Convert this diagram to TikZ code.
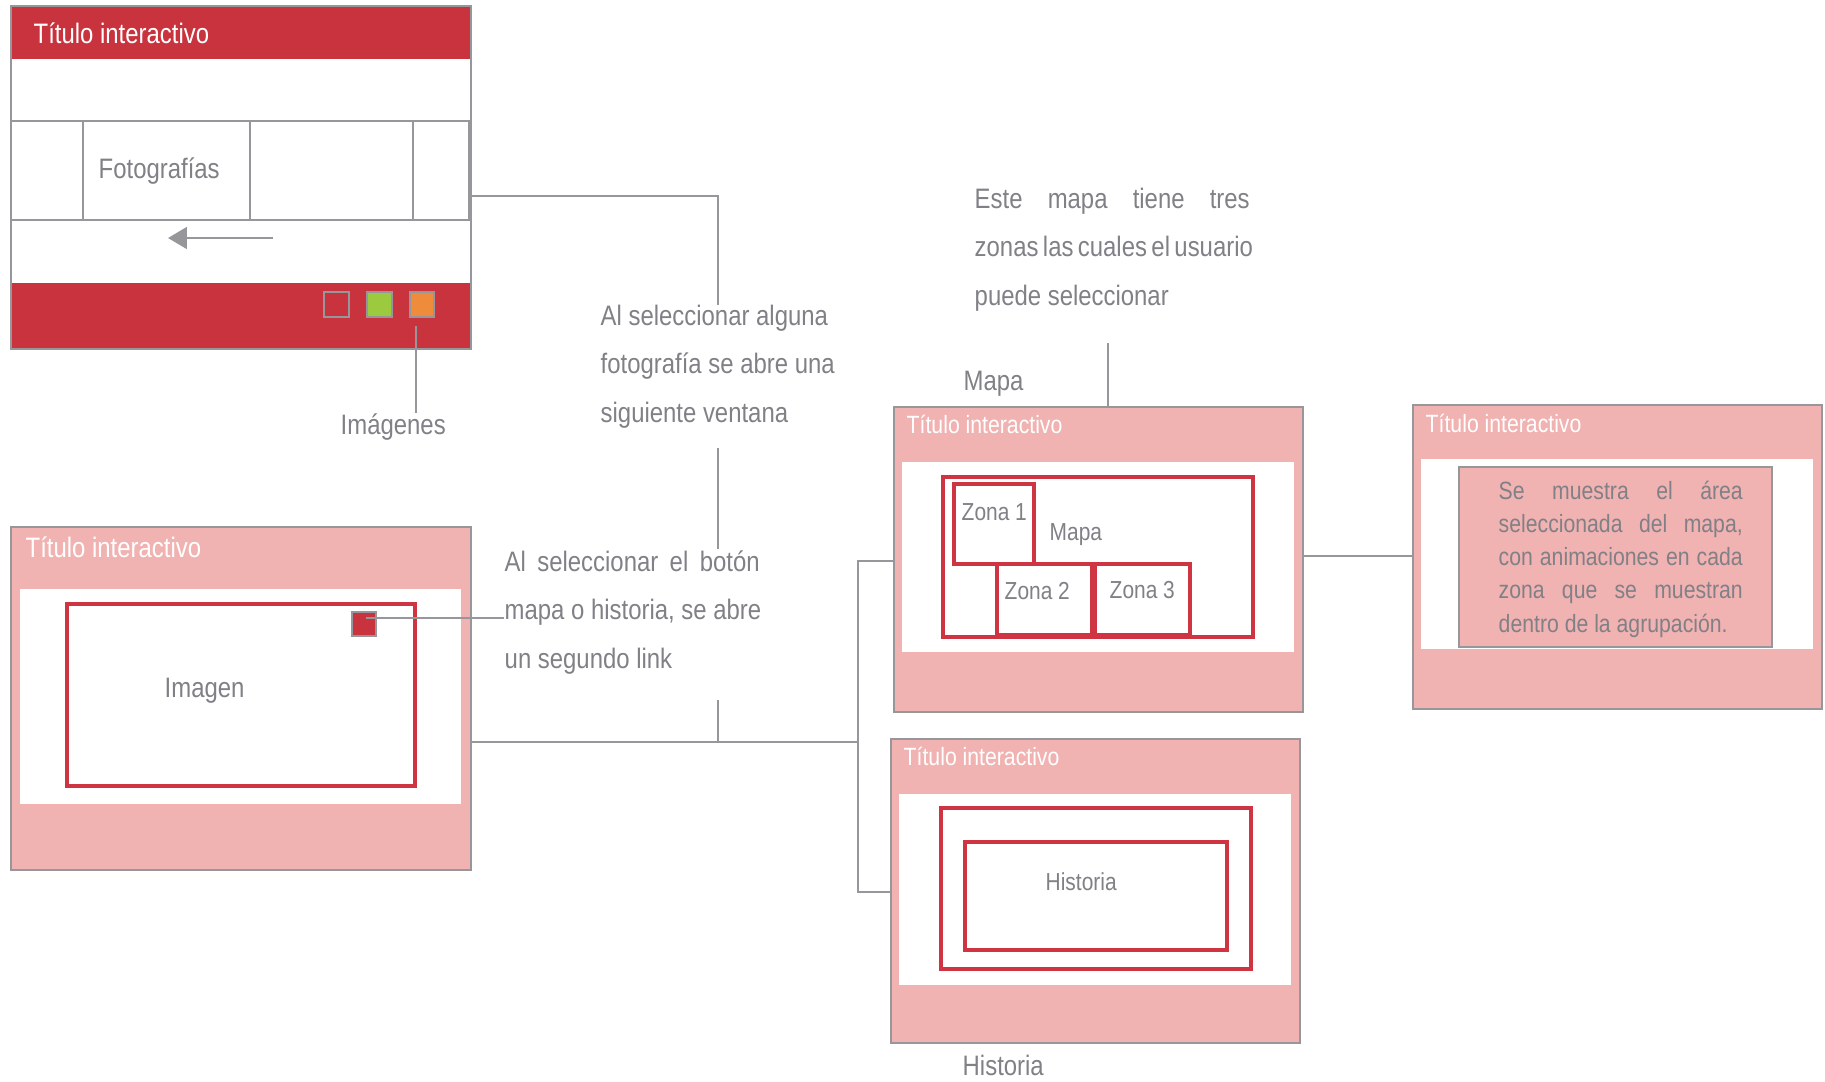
\documentclass[tikz,border=0pt]{standalone}
\usepackage{fontspec}
\setmainfont{Liberation Sans}[FakeStretch=0.85]
\usetikzlibrary{fit,arrows.meta}

\definecolor{titlered}{RGB}{200,51,62}
\definecolor{winpink}{RGB}{241,178,178}
\definecolor{framegray}{RGB}{150,150,155}
\definecolor{inkgray}{RGB}{128,128,134}
\definecolor{zonered}{RGB}{206,52,66}
\definecolor{btngreen}{RGB}{155,202,62}
\definecolor{btnorange}{RGB}{238,140,60}

\tikzset{
  win/.style={draw=framegray, fill=winpink, line width=0.5pt, inner sep=0pt},
  pane/.style={fill=white, inner sep=0pt},
  zone/.style={draw=zonered, line width=0.9pt, inner sep=0pt},
  cell/.style={draw=framegray, line width=0.5pt, inner sep=0pt},
  link/.style={draw=framegray, line width=0.45pt},
  wintitle/.style={text=white, font=\fontsize{7.1}{8.5}\selectfont, inner sep=0pt, anchor=base west},
  lbltext/.style={text=inkgray, font=\fontsize{8}{9.6}\selectfont, inner sep=0pt, anchor=base west},
  smalltext/.style={text=inkgray, font=\fontsize{7}{8.4}\selectfont, inner sep=0pt, anchor=base west},
  note/.style={text=inkgray, font=\fontsize{8}{13.7}\selectfont, inner sep=0pt, anchor=base west, align=left},
}

\begin{document}
\begin{tikzpicture}[x=0.01cm,y=-0.01cm]
  \useasboundingbox (0,0) rectangle (1825,1081);

  % galeria de fotografias
  \fill[titlered] (11,6) rectangle (471,59);
  \fill[titlered] (11,283) rectangle (471,349);
  \node[draw=framegray, line width=0.5pt, inner sep=0pt, fit={(11,6)(471,349)}] (topwin) {};
  \node[wintitle, font=\fontsize{8}{9.6}\selectfont] (topT) at (33,43) {Título interactivo};
  \node[cell, fit={(11,121)(469,220)}] (strip) {};
  \foreach \x in {83,250,413}
    \draw[framegray, line width=0.8pt] (\x,121) -- (\x,220);
  \node[lbltext] (foto) at (98,178) {Fotografías};
  \draw[link, line width=0.7pt, -{Triangle[length=5.4pt,width=6.2pt]}] (273,238) -- (168,238);
  \node[cell, fill=titlered, fit={(324,292)(349,317)}] (sqred) {};
  \node[cell, fill=btngreen, fit={(367,292)(392,317)}] (sqgreen) {};
  \node[cell, fill=btnorange, fit={(410,292)(434,317)}] (sqorange) {};

  \coordinate (imgtop) at (416,326);
  \node[lbltext] (imagenes) at (340,434) {Imágenes};
  \draw[link] (imgtop) -- (imgtop |- imagenes.north);

  % notas (base = ultima linea)
  \coordinate (fotoOut) at (471,196);
  \coordinate (n1top) at (718,305);
  \draw[link] (fotoOut) -| (n1top);
  \node[note] (n1) at (600,422) {Al seleccionar alguna\\fotografía se abre una\\siguiente ventana};
  \coordinate (n1bot) at (718,448);
  \coordinate (n2top) at (718,549);
  \draw[link] (n1bot) -- (n2top);
  \node[note] (n2) at (504,668) {\makebox[72.5pt][s]{Al seleccionar el botón}\\mapa o historia, se abre\\un segundo link};

  % ventana imagen
  \node[win, fit={(11,527)(471,870)}] (imgwin) {};
  \node[pane, fit={(20,589)(461,804)}] (imgpane) {};
  \node[zone, fit={(67,604)(415,786)}] (imgzone) {};
  \node[wintitle, font=\fontsize{8}{9.6}\selectfont] (imgT) at (25,557) {Título interactivo};
  \node[lbltext] (imagen) at (164,697) {Imagen};
  \node[cell, fill=titlered, fit={(352,612)(376,636)}] (btn) {};
  \coordinate (btnOut) at (366,618);
  \coordinate (n2in) at (504,618);
  \draw[link] (btnOut) -- (n2in);

  % ventana mapa
  \node[win, fit={(894,407)(1303,712)}] (mapwin) {};
  \node[pane, fit={(902,462)(1294,652)}] (mappane) {};
  \node[zone, fit={(943,477)(1253,637)}] (mapa) {};
  \node[zone, fit={(954,484)(1034,564)}] (zona1) {};
  \node[zone, fit={(997,564)(1092,635)}] (zona2) {};
  \node[zone, fit={(1095,564)(1190,635)}] (zona3) {};
  \node[wintitle] (mapT) at (906,433) {Título interactivo};
  \node[smalltext] at (961,520) {Zona 1};
  \node[smalltext] at (1049,540) {Mapa};
  \node[smalltext] at (1004,599) {Zona 2};
  \node[smalltext] at (1109,598) {Zona 3};
  \node[lbltext] (mapaLbl) at (963,390) {Mapa};
  \node[note] (n3) at (974,305) {\makebox[78.2pt][s]{Este mapa tiene tres}\\\makebox[78.2pt][s]{zonas las cuales el usuario}\\puede seleccionar};
  \coordinate (mapTop) at (1108,343);
  \draw[link] (mapTop) -- (mapTop |- mapwin.north);

  % ventana zona
  \node[win, fit={(1413,405)(1822,709)}] (zonawin) {};
  \node[pane, fit={(1421,459)(1813,649)}] (zonapane) {};
  \node[draw=framegray, fill=winpink, line width=0.8pt, inner sep=0pt, fit={(1459,467)(1772,647)}] (detalle) {};
  \node[wintitle] (zonaT) at (1425,432) {Título interactivo};
  \node[smalltext, font=\fontsize{7.1}{9.39}\selectfont, align=left] (detTxt) at (1498,632)
    {\makebox[69.4pt][s]{Se muestra el área}\\\makebox[69.4pt][s]{seleccionada del mapa,}\\\makebox[69.4pt][s]{con animaciones en cada}\\\makebox[69.4pt][s]{zona que se muestran}\\dentro de la agrupación.};
  \coordinate (mapOut) at (1303,556);
  \draw[link] (mapOut) -- (zonawin.west |- mapOut);

  % ventana historia
  \node[win, fit={(891,739)(1300,1043)}] (histwin) {};
  \node[pane, fit={(899,794)(1291,985)}] (histpane) {};
  \node[zone, fit={(941,808)(1251,969)}] (histout) {};
  \node[zone, fit={(965,842)(1227,950)}] (histin) {};
  \node[wintitle] (histT) at (903,765) {Título interactivo};
  \node[smalltext] at (1045,890) {Historia};
  \node[lbltext] (histLbl) at (962,1075) {Historia};

  % enlaces
  \coordinate (n2bot) at (718,700);
  \coordinate (busJ) at (718,742);
  \coordinate (busR) at (858,742);
  \coordinate (mapIn) at (894,561);
  \coordinate (histIn) at (891,892);
  \draw[link] (n2bot) -- (busJ);
  \draw[link] (imgwin.east |- busJ) -- (busR);
  \draw[link] (mapIn) -| (busR) |- (histIn);
\end{tikzpicture}
\end{document}
